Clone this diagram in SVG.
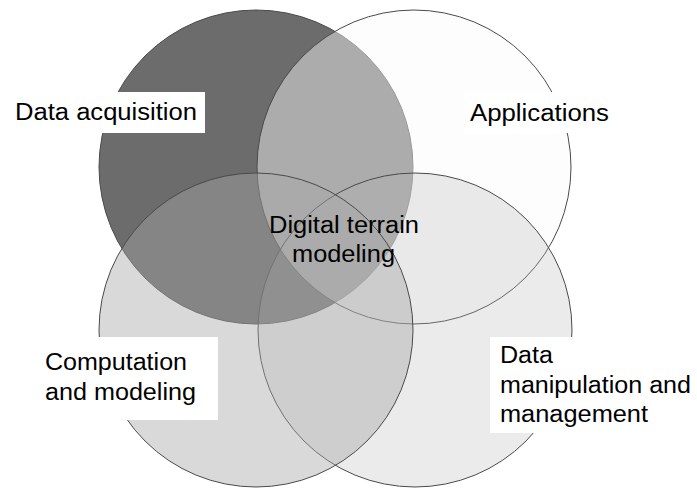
<svg xmlns="http://www.w3.org/2000/svg" width="697" height="488" viewBox="0 0 697 488">
  <style>
    .ring { stroke: #4a4a4a; stroke-width: 1; }
    .box { fill: #ffffff; stroke: none; }
    .lbl { font-family: "Liberation Sans", Arial, sans-serif; font-size: 23px; fill: #000000; }
  </style>
  <rect width="697" height="488" fill="#ffffff"/>
  <g id="data-acquisition">
    <circle class="ring" cx="256" cy="167" r="157" fill="#6c6c6c"/>
    <rect class="box" x="5" y="92" width="200" height="41"/>
    <text class="lbl" x="15" y="120" textLength="182" lengthAdjust="spacingAndGlyphs">Data acquisition</text>
  </g>
  <g id="applications">
    <circle class="ring" cx="414" cy="167" r="157" fill="#fafafa" fill-opacity="0.45"/>
    <rect class="box" x="464" y="92" width="150" height="41"/>
    <text class="lbl" x="470" y="121" textLength="139" lengthAdjust="spacingAndGlyphs">Applications</text>
  </g>
  <g id="data-manipulation">
    <circle class="ring" cx="415" cy="330" r="157" fill="#b4b4b4" fill-opacity="0.27"/>
    <rect class="box" x="490" y="337" width="207" height="96"/>
    <text class="lbl" x="500" y="363" textLength="53" lengthAdjust="spacingAndGlyphs">Data</text>
    <text class="lbl" x="500" y="392.5" textLength="191" lengthAdjust="spacingAndGlyphs">manipulation and</text>
    <text class="lbl" x="500" y="422" textLength="148" lengthAdjust="spacingAndGlyphs">management</text>
  </g>
  <g id="computation-modeling">
    <circle class="ring" cx="256" cy="330" r="157" fill="#a6a6a6" fill-opacity="0.43"/>
    <rect class="box" x="30" y="337" width="188" height="83"/>
    <text class="lbl" x="45" y="369.5" textLength="142" lengthAdjust="spacingAndGlyphs">Computation</text>
    <text class="lbl" x="45" y="400" textLength="151" lengthAdjust="spacingAndGlyphs">and modeling</text>
  </g>
  <g id="digital-terrain-modeling">
    <text class="lbl" x="344" y="233" text-anchor="middle" textLength="150" lengthAdjust="spacingAndGlyphs">Digital terrain</text>
    <text class="lbl" x="343.5" y="262" text-anchor="middle" textLength="103" lengthAdjust="spacingAndGlyphs">modeling</text>
  </g>
  <g id="connectors"/>
</svg>
